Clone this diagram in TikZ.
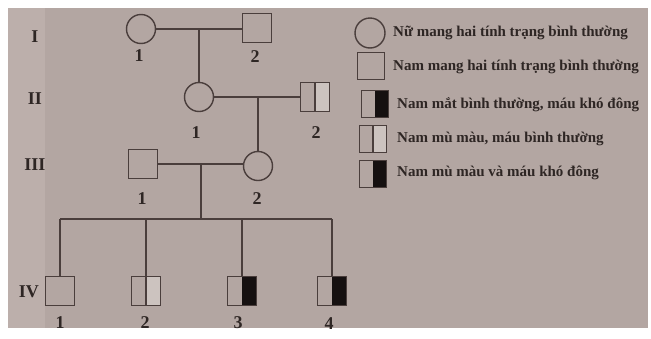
\documentclass[tikz,border=0pt]{standalone}
\usepackage{fontspec}
\setmainfont{Liberation Serif}
\usetikzlibrary{calc}
\begin{document}
\begin{tikzpicture}[x=1pt,y=-1pt,
  ln/.style={draw=lncol,line width=1.4pt},
  fem/.style={circle,ln,minimum size=29pt,inner sep=0pt},
  mal/.style={rectangle,ln,minimum size=29pt,inner sep=0pt},
  lmal/.style={rectangle,ln,minimum size=27pt,inner sep=0pt},
  greyleft/.style={path picture={
     \shade[left color=eyeA,right color=eyeB]
       (path picture bounding box.south west) rectangle (path picture bounding box.north);
     \draw[stripe,line width=0.8pt] ($(path picture bounding box.south west)!0.33!(path picture bounding box.south)$) -- ($(path picture bounding box.north west)!0.33!(path picture bounding box.north)$);
     \draw[stripe,line width=0.6pt] ($(path picture bounding box.south west)!0.66!(path picture bounding box.south)$) -- ($(path picture bounding box.north west)!0.66!(path picture bounding box.north)$);}},
  whiteleft/.style={path picture={\fill[halfw]
     (path picture bounding box.south west) rectangle (path picture bounding box.north);}},
  blackright/.style={path picture={\fill[blk]
     (path picture bounding box.south) rectangle (path picture bounding box.north east);}},
  whiteright/.style={path picture={\fill[halfw]
     (path picture bounding box.south) rectangle (path picture bounding box.north east);
     \draw[lncol,line width=1.4pt] (path picture bounding box.south) -- (path picture bounding box.north);}},
  gen/.style={font=\fontsize{18}{18}\selectfont\bfseries,text=txtcol},
  num/.style={font=\fontsize{18}{18}\selectfont\bfseries,text=txtcol},
  leg/.style={font=\fontsize{15}{15}\selectfont\bfseries,text=txtcol,anchor=west,inner sep=0pt}
]
\definecolor{bg}{HTML}{B3A6A2}
\definecolor{bgL}{HTML}{BCAFAB}
\definecolor{lncol}{HTML}{4A3E3C}
\definecolor{txtcol}{HTML}{2E2624}
\definecolor{eyeA}{HTML}{9C908D}
\definecolor{eyeB}{HTML}{C9C0BC}
\definecolor{stripe}{HTML}{8A7E7B}
\definecolor{halfw}{HTML}{CCC3BF}
\definecolor{blk}{HTML}{151010}
\useasboundingbox (0,0) rectangle (651,338);
\fill[white] (0,0) rectangle (651,338);
\fill[bg] (8,8) rectangle (648,328);
\fill[bgL] (8,8) rectangle (45,328);

% generation labels
\node[gen] (gI) at (35,37) {I};
\node[gen] (gII) at (35,99) {II};
\node[gen] (gIII) at (35,165) {III};
\node[gen] (gIV) at (29,292) {IV};

% generation I
\node[fem] (i1) at (141,29) {};
\node[mal] (i2) at (257,28) {};
\node[num] (ni1) at (139,56) {1};
\node[num] (ni2) at (255,57) {2};
\draw[ln] (i1) -- (i1 -| i2.west);
\coordinate (m1) at (199,29);

% generation II
\node[fem] (ii1) at (199,97) {};
\node[mal,greyleft,whiteright] (ii2) at (315,97) {};
\node[num] (nii1) at (196,133) {1};
\node[num] (nii2) at (316,133) {2};
\draw[ln] (m1) -- (ii1);
\draw[ln] (ii1) -- (ii2);
\coordinate (m2) at (258,97);

% generation III
\node[mal] (iii1) at (143,164) {};
\node[fem] (iii2) at (258,166) {};
\node[num] (niii1) at (142,199) {1};
\node[num] (niii2) at (257,199) {2};
\draw[ln] (m2) -- (iii2);
\draw[ln] (iii1) -- (iii1 -| iii2.west);
\coordinate (m3) at (201,164);
\coordinate (s) at (201,219);
\draw[ln] (m3) -- (s);

% generation IV
\node[mal] (iv1) at (60,291) {};
\node[mal,greyleft,whiteright] (iv2) at (146,291) {};
\node[mal,whiteleft,blackright] (iv3) at (242,291) {};
\node[mal,greyleft,blackright] (iv4) at (332,291) {};
\node[num] (niv1) at (60,323) {1};
\node[num] (niv2) at (145,323) {2};
\node[num] (niv3) at (238,323) {3};
\node[num] (niv4) at (329,324) {4};
\draw[ln] (iv1 |- s) -- (iv4 |- s);
\draw[ln] (iv1 |- s) -- (iv1);
\draw[ln] (iv2 |- s) -- (iv2);
\draw[ln] (iv3 |- s) -- (iv3);
\draw[ln] (iv4 |- s) -- (iv4);

% legend
\node[fem,minimum size=30pt] (l1) at (370,33) {};
\node[lmal] (l2) at (371,66) {};
\node[lmal,whiteleft,blackright] (l3) at (375,104) {};
\node[lmal,greyleft,whiteright] (l4) at (373,139) {};
\node[lmal,greyleft,blackright] (l5) at (373,174) {};
\node[leg] (t1) at (393,33) {Nữ mang hai tính trạng bình thường};
\node[leg] (t2) at (393,67) {Nam mang hai tính trạng bình thường};
\node[leg] (t3) at (397,105) {Nam mắt bình thường, máu khó đông};
\node[leg] (t4) at (397,139) {Nam mù màu, máu bình thường};
\node[leg] (t5) at (397,173) {Nam mù màu và máu khó đông};
\end{tikzpicture}
\end{document}
